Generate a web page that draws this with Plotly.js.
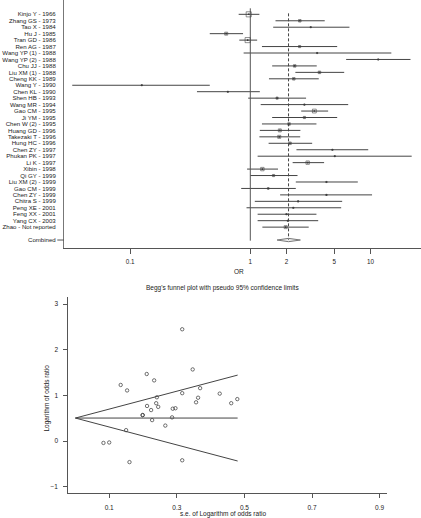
<!DOCTYPE html>
<html><head><meta charset="utf-8">
<script src="https://cdn.plot.ly/plotly-3.0.1.min.js"></script>
<style>html,body{margin:0;padding:0;background:#fff}</style>
</head><body><div id="chart" style="width:421px;height:518px"></div>
<script>
// ---------- Forest plot data ----------
const studies = ["Kinjo Y - 1966","Zhang GS - 1973","Tao X - 1984","Hu J - 1985","Tran GD - 1986","Ren AG - 1987",
  "Wang YP (1) - 1988","Wang YP (2) - 1988","Chu JJ - 1988","Liu XM (1) - 1988","Cheng KK - 1989","Wang Y - 1990",
  "Chen KL - 1990","Shen HB - 1993","Wang MR - 1994","Gao CM - 1995","Ji YM - 1995","Chen W (2) - 1995",
  "Huang GD - 1996","Takezaki T - 1996","Hung HC - 1996","Chen ZY - 1997","Phukan PK - 1997","Li K - 1997",
  "Xibin - 1998","Qi GY - 1999","Liu XM (2) - 1999","Gao CM - 1999","Chen ZY - 1999","Chitra S - 1999",
  "Peng XE - 2001","Feng XX - 2001","Yang CX - 2003","Zhao - Not reported"];
const orEst  = [0.97,2.58,3.18,0.63,0.95,2.57,3.60,11.6,2.34,3.76,2.30,0.125,0.65,1.67,2.82,3.41,2.82,2.10,1.76,1.74,2.14,4.82,5.04,3.00,1.26,1.56,4.30,1.41,4.30,2.50,2.28,2.00,2.05,1.97];
const ciLow  = [0.80,1.62,1.55,0.46,0.81,1.25,0.88,6.27,1.52,2.37,1.43,0.033,0.36,0.96,1.22,2.65,1.52,1.25,1.20,1.19,1.42,2.42,1.15,2.25,0.94,1.00,2.39,0.84,1.77,1.09,0.93,1.15,1.15,1.26];
const ciHigh = [1.19,4.16,6.68,0.87,1.14,5.28,14.9,21.5,3.57,6.04,3.71,0.46,1.20,2.91,6.52,4.44,5.28,3.55,2.61,2.60,3.27,9.57,22.0,4.11,1.70,2.47,7.84,2.39,10.3,5.81,5.70,3.55,3.67,3.06];
const weights = [9.0,2.2,0.5,3.1,9.0,1.6,0.5,0.5,2.2,2.2,2.2,0.5,0.5,1.6,0.5,5.1,1.6,2.2,3.1,3.1,2.2,0.5,0.5,4.0,4.0,1.6,0.5,1.0,0.5,0.5,0.5,0.6,0.6,3.1];
const combinedLabel = "Combined";
const combinedOR = 2.08, combinedLow = 1.67, combinedHigh = 2.61;
const forestTicks = [0.1, 1, 2, 5, 10];

// ---------- Funnel plot data ----------
const seLogOR = [0.316,0.347,0.211,0.233,0.134,0.153,0.369,0.316,0.427,0.241,0.363,0.479,0.239,0.357,0.461,
  0.212,0.245,0.224,0.288,0.296,0.199,0.199,0.286,0.227,0.266,0.150,0.083,0.100,0.160,0.316];
const logOR   = [2.45,1.57,1.47,1.33,1.23,1.11,1.16,1.05,1.04,0.96,0.95,0.92,0.83,0.85,0.83,
  0.77,0.75,0.68,0.71,0.72,0.57,0.57,0.52,0.46,0.34,0.24,-0.04,-0.03,-0.46,-0.42];
const funnelCenter = 0.505;
const funnelMaxSe = 0.48;
const funnelXTicks = [0.1,0.3,0.5,0.7,0.9];
const funnelYTicks = [-1,0,1,2,3];

// ---------- build ----------
const rows = studies.map((_, i) => i + 1);
const combinedRow = studies.length + 2;

const ciX = [], ciY = [];
studies.forEach((_, i) => { ciX.push(ciLow[i], ciHigh[i], null); ciY.push(rows[i], rows[i], null); });

const dark = '#3a3a3a';
const traces = [
  {x: ciX, y: ciY, mode: 'lines', line: {color: '#444', width: 1}, xaxis: 'x', yaxis: 'y', hoverinfo: 'skip'},
  {x: [1, 1], y: [0.07, combinedRow + 0.1], mode: 'lines', line: {color: '#555', width: 1}, xaxis: 'x', yaxis: 'y'},
  {x: [combinedOR, combinedOR], y: [0.85, combinedRow], mode: 'lines', line: {color: '#444', width: 1, dash: '3px,2px'}, xaxis: 'x', yaxis: 'y'},
  {x: orEst, y: rows, mode: 'markers', xaxis: 'x', yaxis: 'y',
   marker: {symbol: 'square-open', size: weights.map(w => 1.7 * Math.sqrt(w)), color: dark, line: {width: 0.8, color: dark}}},
  {x: orEst, y: rows, mode: 'markers', xaxis: 'x', yaxis: 'y',
   marker: {symbol: 'square', size: 1.6, color: dark}},
  {x: [combinedLow, combinedOR, combinedHigh, combinedOR, combinedLow],
   y: [combinedRow, combinedRow - 0.26, combinedRow, combinedRow + 0.26, combinedRow],
   mode: 'lines', fill: 'toself', fillcolor: 'rgba(210,210,210,0.4)', line: {color: '#777', width: 1}, xaxis: 'x', yaxis: 'y'},
  // funnel
  {x: seLogOR, y: logOR, mode: 'markers', xaxis: 'x2', yaxis: 'y2',
   marker: {symbol: 'circle-open', size: 3.4, color: '#333', line: {width: 0.7, color: '#333'}}},
  {x: [0, funnelMaxSe], y: [funnelCenter, funnelCenter], mode: 'lines', line: {color: '#444', width: 1}, xaxis: 'x2', yaxis: 'y2'},
  {x: [0, funnelMaxSe], y: [funnelCenter, funnelCenter + 1.96 * funnelMaxSe], mode: 'lines', line: {color: '#444', width: 1}, xaxis: 'x2', yaxis: 'y2'},
  {x: [0, funnelMaxSe], y: [funnelCenter, funnelCenter - 1.96 * funnelMaxSe], mode: 'lines', line: {color: '#444', width: 1}, xaxis: 'x2', yaxis: 'y2'}
];

const W = 421, H = 518;
const layout = {
  width: W, height: H, margin: {l: 0, r: 0, t: 0, b: 0}, showlegend: false,
  paper_bgcolor: '#fff', plot_bgcolor: '#fff',
  font: {family: 'Liberation Sans, Arial, sans-serif', size: 6.5, color: '#222'},
  xaxis: {type: 'log', domain: [64 / W, 1], range: [-1.55, 1.42], anchor: 'y',
    tickvals: forestTicks, ticktext: forestTicks.map(String), ticks: 'outside', ticklen: 5, tickcolor: '#555',
    showline: true, linecolor: '#555', linewidth: 1, showgrid: false, zeroline: false,
    tickfont: {size: 6.3}, ticklabelstandoff: 3},
  yaxis: {domain: [1 - 247.7 / H, 1], range: [37.19, -1.22], anchor: 'x',
    tickvals: rows.concat([combinedRow]), ticktext: studies.concat([combinedLabel]),
    ticks: 'outside', ticklen: 6, tickcolor: 'rgba(0,0,0,0)',
    showline: true, linecolor: '#777', linewidth: 1, showgrid: false, zeroline: false,
    tickfont: {size: 6.1}},
  xaxis2: {domain: [68.3 / W, 386.7 / W], range: [-0.021, 0.921], anchor: 'y2',
    tickvals: funnelXTicks, ticktext: funnelXTicks.map(String), ticks: 'outside', ticklen: 4, tickcolor: '#555',
    showline: true, linecolor: '#555', linewidth: 1, showgrid: false, zeroline: false,
    tickfont: {size: 6.5}, ticklabelstandoff: 4},
  yaxis2: {domain: [1 - 492.7 / H, 1 - 297.3 / H], range: [-1.13, 3.15], anchor: 'x2',
    tickvals: funnelYTicks, ticks: 'outside', ticklen: 4, tickcolor: '#555',
    showline: true, linecolor: '#555', linewidth: 1, showgrid: false, zeroline: false,
    tickfont: {size: 6.5}, ticklabelstandoff: 4},
  shapes: [
    {type: 'line', xref: 'paper', yref: 'y', x0: 57.3 / W, x1: 64 / W, y0: combinedRow, y1: combinedRow,
     line: {color: '#555', width: 1}}
  ],
  annotations: [
    {text: 'OR', xref: 'paper', yref: 'paper', x: 239.3 / W, y: 1 - 271.7 / H, showarrow: false,
     xanchor: 'center', yanchor: 'middle', font: {size: 6.5}},
    {text: "Begg's funnel plot with pseudo 95% confidence limits", xref: 'paper', yref: 'paper',
     x: 222.7 / W, y: 1 - 288.3 / H, showarrow: false, xanchor: 'center', yanchor: 'middle', font: {size: 6.5}},
    {text: 's.e. of Logarithm of odds ratio', xref: 'paper', yref: 'paper',
     x: 223.3 / W, y: 1 - 514.3 / H, showarrow: false, xanchor: 'center', yanchor: 'middle', font: {size: 6.5}},
    {text: 'Logarithm of odds ratio', xref: 'paper', yref: 'paper', textangle: -90,
     x: 47.3 / W, y: 1 - 398.3 / H, showarrow: false, xanchor: 'center', yanchor: 'middle', font: {size: 6.5}}
  ]
};

Plotly.newPlot('chart', traces, layout, {staticPlot: true, displayModeBar: false});
</script></body></html>
